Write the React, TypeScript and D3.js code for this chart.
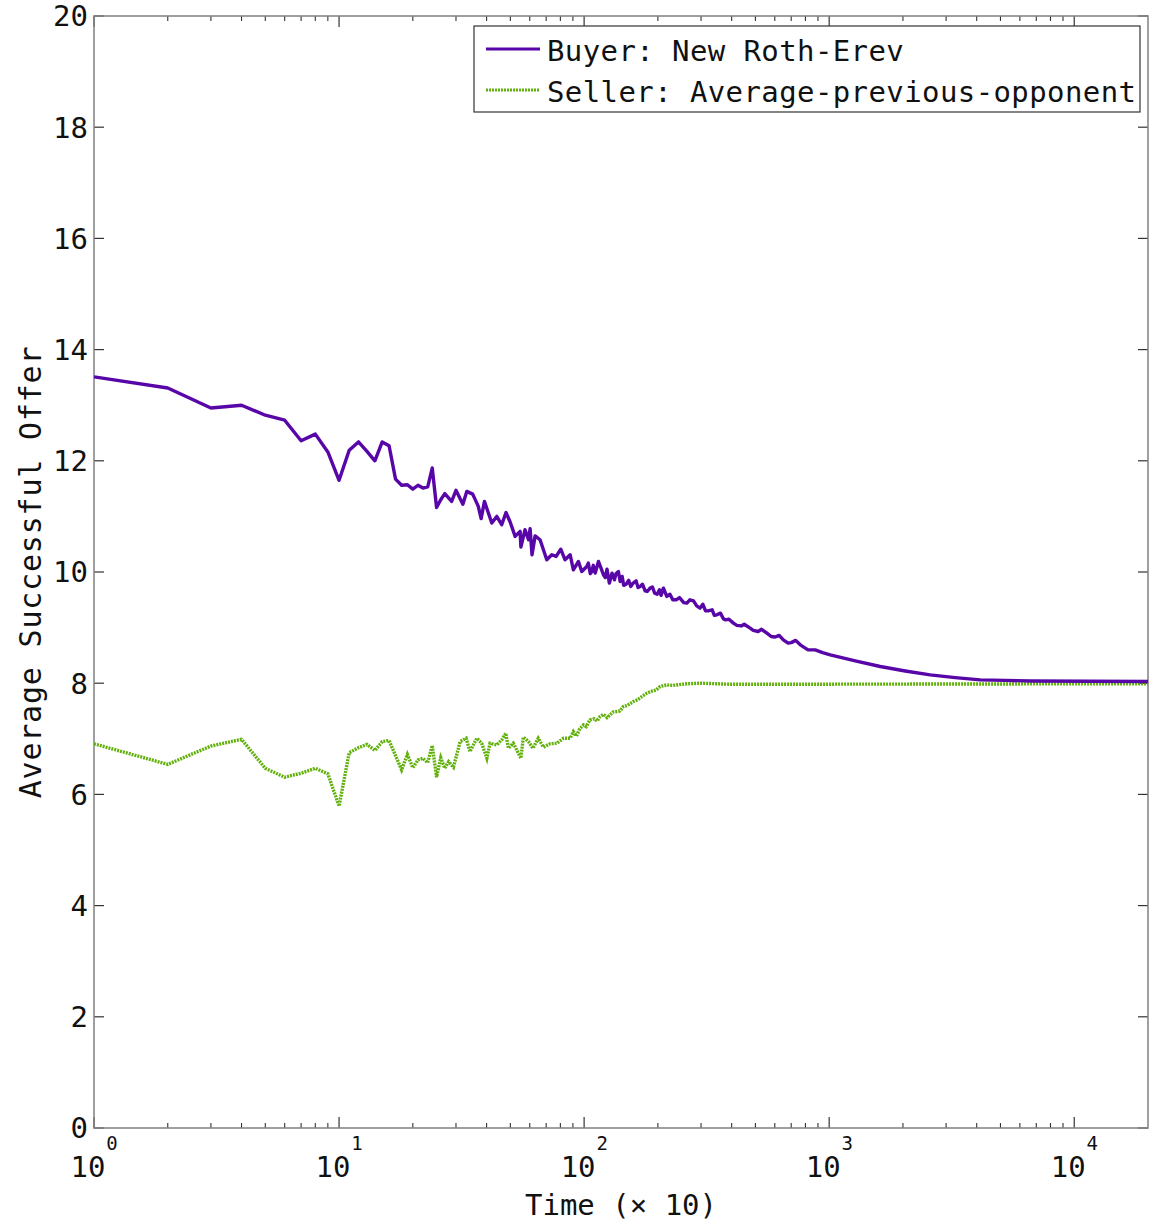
import React from "react";
import * as d3 from "d3";

// ---- data ----
const buyerT = [
  1, 2, 3, 4, 5, 6, 7, 8, 9, 10, 11, 12, 13, 14, 15, 16, 17, 18, 19, 20, 21, 22, 23, 24, 25, 26, 27,
  28.8, 30, 32, 33.2, 35.1, 37, 38, 39.2, 42, 44, 46.1, 48, 49.9, 52.3, 54.8, 55.2, 57.4, 59.3, 60.2,
  61.3, 63.1, 66.1, 70.4, 73.8, 76.9, 80.3, 83.6, 87.7, 90.4, 94.8, 97.8, 102.5, 104, 106, 107.5, 109,
  111, 114.4, 117, 119.9, 122, 124, 126.8, 130, 133, 135, 138, 140.3, 143, 145, 148.4, 152, 155, 158.6,
  163, 166, 169.3, 173, 177.4, 181, 185.9, 190, 194, 198.6, 203, 206, 210.7, 217.4, 224, 230, 237.5, 245,
  255, 262.5, 270, 279.5, 288, 297.3, 305, 313, 320.6, 333, 340, 348.1, 360, 370, 376.5, 390, 406.6, 420,
  437.5, 450, 476, 490, 513, 530, 557, 580, 602, 625, 650, 680, 700, 730, 762, 820, 877, 940, 1010, 1277,
  1616, 2044, 2584, 3268, 4132, 5228, 6610, 20000,
];
const buyerV = [
  13.51, 13.31, 12.95, 13.0, 12.82, 12.73, 12.36, 12.48, 12.16, 11.65, 12.19, 12.34, 12.17, 12.0, 12.34,
  12.27, 11.67, 11.56, 11.57, 11.49, 11.56, 11.51, 11.53, 11.87, 11.16, 11.3, 11.41,
  11.27, 11.47, 11.22, 11.45, 11.4, 11.18, 10.96, 11.27, 10.88, 11.0, 10.85, 11.07, 10.9, 10.64, 10.73,
  10.45, 10.76, 10.58, 10.78, 10.31, 10.65, 10.58, 10.22, 10.31, 10.28, 10.41, 10.22, 10.31, 10.04, 10.19,
  10.01, 10.1, 10.16, 9.97, 10.01, 10.12, 9.98, 10.19, 10.08, 9.95, 9.9, 10.05, 9.8, 9.98, 9.86, 9.97,
  10.01, 9.83, 9.92, 9.76, 9.78, 9.85, 9.74, 9.8, 9.84, 9.72, 9.74, 9.78, 9.66, 9.65, 9.71, 9.73, 9.62,
  9.6, 9.68, 9.58, 9.71, 9.56, 9.6, 9.5, 9.5, 9.54, 9.45, 9.44, 9.5, 9.48, 9.39, 9.35, 9.42, 9.3, 9.3,
  9.32, 9.22, 9.23, 9.26, 9.16, 9.14, 9.15, 9.08, 9.04, 9.03, 9.06, 8.99, 8.95, 8.93, 8.97, 8.9, 8.84,
  8.83, 8.86, 8.78, 8.72, 8.73, 8.77, 8.69, 8.6, 8.6, 8.55, 8.51, 8.4, 8.3, 8.22, 8.15, 8.1, 8.06, 8.05,
  8.04, 8.03,
];

const sellerT = [
  1, 2, 3, 4, 5, 6, 7, 8, 9, 10, 11, 12, 13, 14, 15, 16, 17, 18, 19, 20, 21, 22, 23, 24, 25, 26, 27, 28,
  29.3, 31.2, 33, 34.2, 36.5, 38.2, 40.1, 41.3, 44, 46.1, 47.9, 49.1, 51.4, 53.1, 55.2, 56.5, 59.3, 61.8,
  65, 68.2, 72.6, 77.4, 82.4, 87.7, 90.4, 93, 96, 99.4, 102, 105.7, 110, 113, 116.2, 120, 124, 127.7,
  131, 135.9, 140, 144.6, 150, 158.9, 165, 172, 180.2, 190, 197, 204.3, 217.6, 230, 262.5, 300, 400,
  20000,
];
const sellerV = [
  6.91, 6.54, 6.87, 6.99, 6.47, 6.31, 6.38, 6.47, 6.37, 5.79, 6.75, 6.84, 6.9, 6.79, 6.95, 6.97, 6.7,
  6.44, 6.72, 6.48, 6.62, 6.65, 6.57, 6.88, 6.31, 6.66, 6.47, 6.59,
  6.49, 6.95, 7.01, 6.77, 7.01, 6.92, 6.65, 6.92, 6.89, 6.98, 7.1, 6.83, 6.92, 6.8, 6.65, 7.03, 6.95, 6.83,
  7.01, 6.85, 6.91, 6.92, 7.01, 7.01, 7.13, 7.05, 7.18, 7.25, 7.22, 7.34, 7.36, 7.32, 7.4, 7.44, 7.38,
  7.43, 7.48, 7.49, 7.5, 7.58, 7.6, 7.67, 7.7, 7.76, 7.82, 7.86, 7.88, 7.94, 7.97, 7.96, 7.99, 8.0, 7.98,
  7.99,
];

const yTicks = [0, 2, 4, 6, 8, 10, 12, 14, 16, 18, 20];
const xMajor = [1, 10, 100, 1000, 10000];
const xExponents = ["0", "1", "2", "3", "4"];
const seriesNames = ["Buyer: New Roth-Erev", "Seller: Average-previous-opponent"];
const xTitle = "Time (\u00d7 10)";
const yTitle = "Average Successful Offer";

const W = 1149;
const H = 1224;
const L = 94, R = 1148, T = 16, B = 1128;
const FONT = "'DejaVu Sans Mono', monospace";
const PURPLE = "#5806a8";
const GREEN = "#62b00c";

export default function App() {
  const x = d3.scaleLog().domain([1, 20000]).range([L, R]);
  const y = d3.scaleLinear().domain([0, 20]).range([B, T]);

  const minor: number[] = [];
  for (let d = 0; d < 5; d++) {
    for (let k = 2; k <= 9; k++) {
      const v = k * Math.pow(10, d);
      if (v < 20000) minor.push(v);
    }
  }

  const line = d3
    .line<[number, number]>()
    .x((d) => x(d[0]))
    .y((d) => y(d[1]));

  const buyer = buyerT.map((t, i) => [t, buyerV[i]] as [number, number]);
  const seller = sellerT.map((t, i) => [t, sellerV[i]] as [number, number]);

  const axisCol = "#808080";
  const tickCol = "#333";

  return (
    <svg
      width={W}
      height={H}
      style={{ position: "absolute", left: 0, top: 0, background: "#fff" }}
      fontFamily={FONT}
    >
      <defs>
        <clipPath id="plot">
          <rect x={L} y={T} width={R - L} height={B - T} />
        </clipPath>
      </defs>
      <rect x={0} y={0} width={W} height={H} fill="#fff" />

      {/* y ticks */}
      {yTicks.map((v) => (
        <g key={"y" + v}>
          <line x1={L} x2={L + 10} y1={y(v)} y2={y(v)} stroke={tickCol} strokeWidth={1.2} />
          <line x1={R - 10} x2={R} y1={y(v)} y2={y(v)} stroke={tickCol} strokeWidth={1.2} />
          <text x={88} y={y(v)} dy="0.36em" textAnchor="end" fontSize={29} fill="#111">
            {v}
          </text>
        </g>
      ))}

      {/* x ticks */}
      {minor.map((v) => (
        <g key={"m" + v}>
          <line x1={x(v)} x2={x(v)} y1={B} y2={B - 5} stroke={tickCol} strokeWidth={1.1} />
          <line x1={x(v)} x2={x(v)} y1={T} y2={T + 5} stroke={tickCol} strokeWidth={1.1} />
        </g>
      ))}
      {xMajor.map((v, i) => (
        <g key={"M" + v}>
          <line x1={x(v)} x2={x(v)} y1={B} y2={B - 11} stroke={tickCol} strokeWidth={1.2} />
          <line x1={x(v)} x2={x(v)} y1={T} y2={T + 11} stroke={tickCol} strokeWidth={1.2} />
          <text x={x(v) - 6} y={1177} textAnchor="middle" fontSize={29} fill="#111">
            10
          </text>
          <text x={x(v) + 18} y={1150} textAnchor="middle" fontSize={19} fill="#111">
            {xExponents[i]}
          </text>
        </g>
      ))}

      {/* frame */}
      <rect x={L} y={T} width={R - L} height={B - T} fill="none" stroke={axisCol} strokeWidth={1.5} />

      {/* series */}
      <g clipPath="url(#plot)">
        <path d={line(seller) || ""} fill="none" stroke={GREEN} strokeWidth={3.4} strokeDasharray="2,1" />
        <path d={line(buyer) || ""} fill="none" stroke={PURPLE} strokeWidth={3.4} strokeLinejoin="round" />
      </g>

      {/* legend */}
      <rect x={474} y={26} width={666} height={86} fill="#fff" stroke="#333" strokeWidth={1.2} />
      <line x1={486} x2={540} y1={49} y2={49} stroke={PURPLE} strokeWidth={3.2} />
      <line x1={486} x2={540} y1={90} y2={90} stroke={GREEN} strokeWidth={3.2} strokeDasharray="2,1" />
      <text x={547} y={61} fontSize={29} letterSpacing={0.4} fill="#111">
        {seriesNames[0]}
      </text>
      <text x={547} y={102} fontSize={29} letterSpacing={0.4} fill="#111">
        {seriesNames[1]}
      </text>

      {/* axis titles */}
      <text x={(L + R) / 2} y={1215} textAnchor="middle" fontSize={29} fill="#111">
        {xTitle}
      </text>
      <text
        transform={`translate(41, ${(T + B) / 2}) rotate(-90)`}
        textAnchor="middle"
        fontSize={30}
        letterSpacing={0.8}
        fill="#111"
      >
        {yTitle}
      </text>
    </svg>
  );
}
